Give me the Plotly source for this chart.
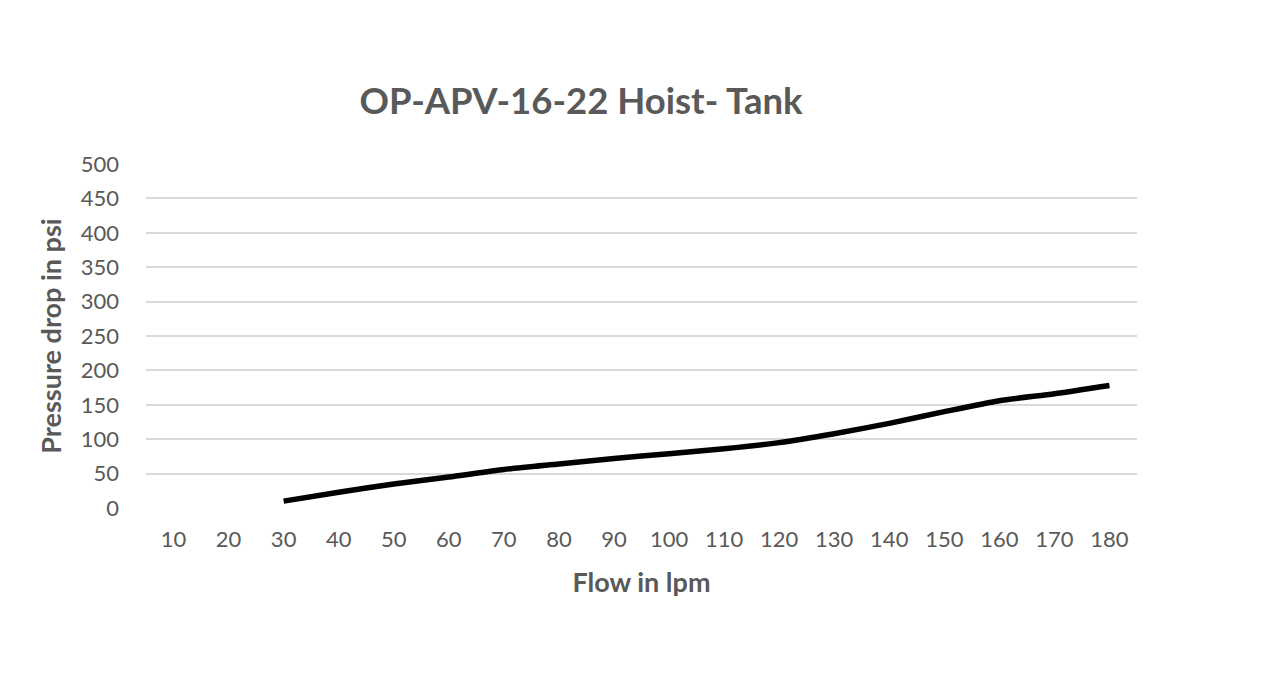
import plotly.graph_objects as go

# Flow (lpm) categories and measured pressure drop (psi)
flow = ["10", "20", "30", "40", "50", "60", "70", "80", "90",
        "100", "110", "120", "130", "140", "150", "160", "170", "180"]
pressure = [None, None, 10, 23, 35, 45, 56, 64, 72,
            79, 86, 95, 108, 123, 140, 156, 166, 178]

y_ticks = list(range(0, 501, 50))

gray = "#595959"
font_name = "Lato"

fig = go.Figure()
fig.add_trace(go.Scatter(
    x=flow, y=pressure, mode="lines",
    line=dict(color="black", width=5.5, shape="spline", smoothing=0.6),
    connectgaps=False, showlegend=False, hoverinfo="x+y",
))

# page body adds an 8px offset, so margins are shifted by that
fig.update_layout(
    width=1287, height=688,
    paper_bgcolor="white", plot_bgcolor="white",
    margin=dict(l=138, r=158, t=156, b=188),
    font=dict(family=font_name, color=gray, size=22),
    title=dict(
        text="<b>OP-APV-16-22 Hoist- Tank</b>",
        font=dict(size=36.5, color=gray, family=font_name),
        x=573 / 1287, xref="container", xanchor="center",
        y=1 - 93 / 688, yref="container", yanchor="middle",
    ),
)

fig.update_xaxes(
    type="category", categoryorder="array", categoryarray=flow,
    range=[-0.5, len(flow) - 0.5],
    showgrid=False, showline=False, zeroline=False, ticks="",
    tickfont=dict(size=22, color=gray),
    ticklabelstandoff=16,
    title=dict(text="<b>Flow in lpm</b>", font=dict(size=27, color=gray), standoff=22),
)
fig.update_yaxes(
    range=[0, 500], tickvals=y_ticks,
    showgrid=True, gridcolor="#D9D9D9", gridwidth=1.5,
    zeroline=False, showline=False, ticks="",
    tickfont=dict(size=22, color=gray),
    ticklabelstandoff=26,
    title=dict(text="<b>Pressure drop in psi</b>", font=dict(size=27, color=gray), standoff=11),
)

fig.write_html("out.html")
